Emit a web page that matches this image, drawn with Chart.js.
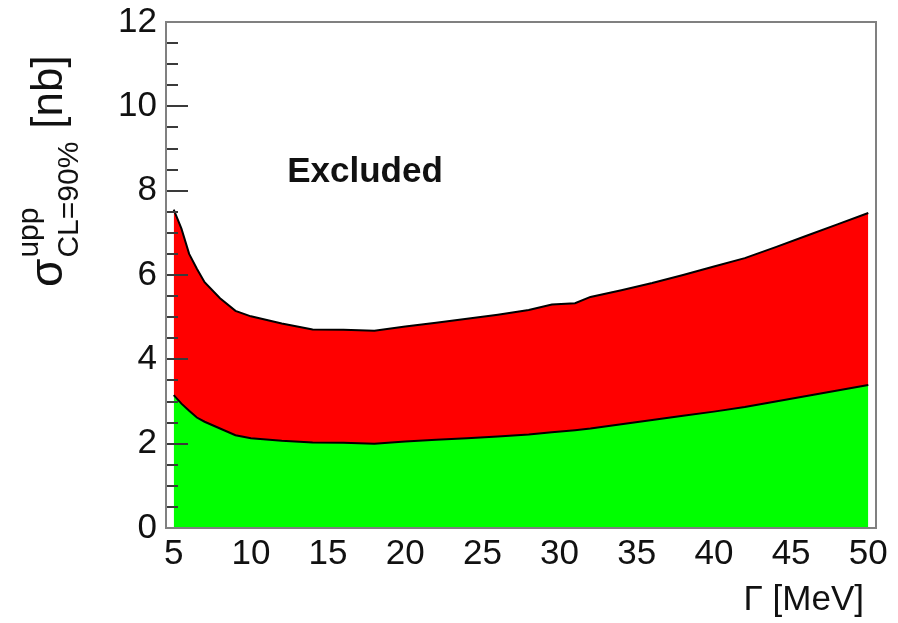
<!DOCTYPE html>
<html>
<head>
<meta charset="utf-8">
<script src="https://cdn.jsdelivr.net/npm/chart.js@4.4.1/dist/chart.umd.min.js"></script>
<style>
  html, body { margin: 0; padding: 0; background: #ffffff; }
  #wrap { width: 898px; height: 623px; position: relative; }
</style>
</head>
<body>
<div id="wrap"><canvas id="c"></canvas></div>
<script>
// Resonance width scan (MeV)
const gammaMeV = [5, 5.5, 6, 6.5, 7, 8, 9, 10, 12, 14, 16, 18, 20, 22, 24, 26, 28, 29.5, 31, 32, 34, 36, 38, 40, 42, 44, 46, 48, 50];
// Upper limit on the cross section at 90% CL (nb), lower band edge
const sigmaLow = [3.15, 2.95, 2.78, 2.62, 2.52, 2.36, 2.2, 2.13, 2.07, 2.03, 2.02, 2.0, 2.05, 2.09, 2.13, 2.17, 2.22, 2.27, 2.32, 2.36, 2.46, 2.56, 2.66, 2.76, 2.87, 3.0, 3.13, 3.26, 3.39];
// Upper limit on the cross section at 90% CL (nb), upper band edge
const sigmaHigh = [7.55, 7.1, 6.5, 6.15, 5.83, 5.45, 5.15, 5.02, 4.85, 4.71, 4.7, 4.68, 4.78, 4.87, 4.96, 5.06, 5.17, 5.3, 5.33, 5.48, 5.64, 5.81, 6.0, 6.2, 6.4, 6.66, 6.93, 7.2, 7.47];

const xTickValues = [5, 10, 15, 20, 25, 30, 35, 40, 45, 50];
const yTickValues = [0, 2, 4, 6, 8, 10, 12];
const excludedLabel = { text: 'Excluded', x: 12.35, y: 8.2 };

const FONT = "'Liberation Sans', Arimo, Arial, sans-serif";

const lowPoints = gammaMeV.map((g, i) => ({ x: g, y: sigmaLow[i] }));
const highPoints = gammaMeV.map((g, i) => ({ x: g, y: sigmaHigh[i] }));

// Frame, inward tick marks, axis titles and the region label
const decorations = {
  id: 'decorations',
  afterDatasetsDraw(chart) {
    const { ctx, chartArea: a, scales: { x, y } } = chart;
    ctx.save();
    // y-axis ticks pointing into the plot: majors every 2, minors every 0.5
    ctx.strokeStyle = '#3a3a3a';
    ctx.lineWidth = 2;
    for (let v = 0; v <= 12.001; v += 0.5) {
      const py = Math.round(y.getPixelForValue(v));
      const major = Math.abs(v / 2 - Math.round(v / 2)) < 1e-6;
      const len = major ? 22 : 12;
      ctx.beginPath();
      ctx.moveTo(a.left, py);
      ctx.lineTo(a.left + len, py);
      ctx.stroke();
    }
    // frame
    ctx.strokeStyle = '#808080';
    ctx.lineWidth = 2;
    ctx.strokeRect(a.left, a.top, a.right - a.left, a.bottom - a.top);

    // region label
    ctx.fillStyle = '#111111';
    ctx.font = 'bold 35px ' + FONT;
    ctx.textAlign = 'left';
    ctx.textBaseline = 'alphabetic';
    ctx.fillText(excludedLabel.text, x.getPixelForValue(excludedLabel.x), y.getPixelForValue(excludedLabel.y));

    // x-axis title, right aligned under the axis
    ctx.font = '35px ' + FONT;
    ctx.textAlign = 'right';
    ctx.fillText('\u0393 [MeV]', 864, 610);

    // y-axis title: sigma with superscript and subscript, rotated
    ctx.translate(62, 287);
    ctx.rotate(-Math.PI / 2);
    ctx.textAlign = 'left';
    ctx.font = '46px ' + FONT;
    ctx.fillText('\u03c3', 0, 0);
    const wSigma = ctx.measureText('\u03c3').width;
    ctx.font = '30px ' + FONT;
    ctx.fillText('upp', wSigma + 1, -24);
    ctx.fillText('CL=90%', wSigma + 1, 16);
    const wSub = ctx.measureText('CL=90%').width;
    ctx.font = '44px ' + FONT;
    ctx.fillText('[nb]', wSigma + wSub + 14, 0);
    ctx.restore();
  }
};

new Chart(document.getElementById('c'), {
  type: 'line',
  data: {
    datasets: [
      {
        label: 'lower',
        data: lowPoints,
        fill: 'origin',
        backgroundColor: '#00ff00',
        borderColor: '#000000',
        borderWidth: 2,
        pointRadius: 0,
        tension: 0
      },
      {
        label: 'upper',
        data: highPoints,
        fill: '-1',
        backgroundColor: '#ff0000',
        borderColor: '#000000',
        borderWidth: 2,
        pointRadius: 0,
        tension: 0
      }
    ]
  },
  options: {
    responsive: true,
    maintainAspectRatio: false,
    animation: false,
    events: [],
    layout: { padding: { left: 0, top: 22, right: 22, bottom: 0 } },
    plugins: { legend: { display: false }, tooltip: { enabled: false } },
    scales: {
      x: {
        type: 'linear',
        min: 4.5,
        max: 50.5,
        grid: { display: false, drawTicks: false },
        border: { display: false },
        afterBuildTicks(scale) { scale.ticks = xTickValues.map(v => ({ value: v })); },
        afterFit(scale) { scale.height = 95; scale.paddingLeft = 0; scale.paddingRight = 0; },
        ticks: {
          color: '#111111',
          font: { family: FONT, size: 35 },
          padding: 5,
          maxRotation: 0,
          autoSkip: false
        }
      },
      y: {
        type: 'linear',
        min: 0,
        max: 12,
        grid: { display: false, drawTicks: false },
        border: { display: false },
        afterBuildTicks(scale) { scale.ticks = yTickValues.map(v => ({ value: v })); },
        afterFit(scale) { scale.width = 166; scale.paddingTop = 0; scale.paddingBottom = 0; },
        ticks: {
          color: '#111111',
          font: { family: FONT, size: 35 },
          padding: 9
        }
      }
    }
  },
  plugins: [decorations]
});
</script>
</body>
</html>
